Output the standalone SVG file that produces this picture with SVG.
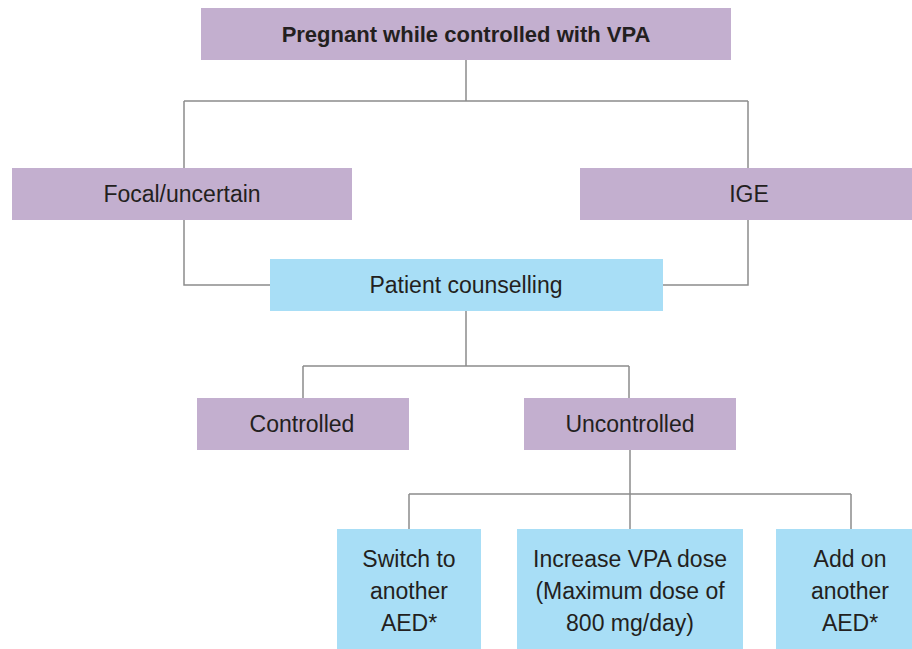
<svg xmlns="http://www.w3.org/2000/svg" width="912" height="649" viewBox="0 0 912 649">
<style>
.p{fill:#c3afcf}
.b{fill:#a8def6}
.t{font-family:"Liberation Sans",Arial,sans-serif;font-size:23px;fill:#231f20;text-anchor:middle}
.bold{font-weight:bold;font-size:22px}
.c{fill:none;stroke:#8c8c8c;stroke-width:1.5}
</style>
<rect width="912" height="649" fill="#fff"/>
<g id="connectors" class="c">
<path d="M466,60V101M184,101H748M184,101V168M748,101V168"/>
<path d="M184,220V285H270M748,220V285H663"/>
<path d="M466,311V366M303,366H629M303,366V398M629,366V398"/>
<path d="M630,450V529M409,494H851M409,494V529M851,494V529"/>
</g>
<g id="n-pregnant"><rect class="p" x="201" y="8" width="530" height="52"/><text class="t bold" x="466" y="42">Pregnant while controlled with VPA</text></g>
<g id="n-focal"><rect class="p" x="12" y="168" width="340" height="52"/><text class="t" x="182" y="202">Focal/uncertain</text></g>
<g id="n-ige"><rect class="p" x="580" y="168" width="332" height="52"/><text class="t" x="749" y="202">IGE</text></g>
<g id="n-counsel"><rect class="b" x="270" y="259" width="393" height="52"/><text class="t" x="466" y="293">Patient counselling</text></g>
<g id="n-controlled"><rect class="p" x="197" y="398" width="212" height="52"/><text class="t" x="302" y="432">Controlled</text></g>
<g id="n-uncontrolled"><rect class="p" x="524" y="398" width="212" height="52"/><text class="t" x="630" y="432">Uncontrolled</text></g>
<g id="n-switch"><rect class="b" x="337" y="529" width="144" height="120"/><text class="t" x="409"><tspan x="409" y="567">Switch to</tspan><tspan x="409" y="599">another</tspan><tspan x="409" y="631">AED*</tspan></text></g>
<g id="n-increase"><rect class="b" x="517" y="529" width="226" height="120"/><text class="t" x="630"><tspan x="630" y="567">Increase VPA dose</tspan><tspan x="630" y="599">(Maximum dose of</tspan><tspan x="630" y="631">800 mg/day)</tspan></text></g>
<g id="n-addon"><rect class="b" x="776" y="529" width="136" height="120"/><text class="t" x="850"><tspan x="850" y="567">Add on</tspan><tspan x="850" y="599">another</tspan><tspan x="850" y="631">AED*</tspan></text></g>
</svg>
